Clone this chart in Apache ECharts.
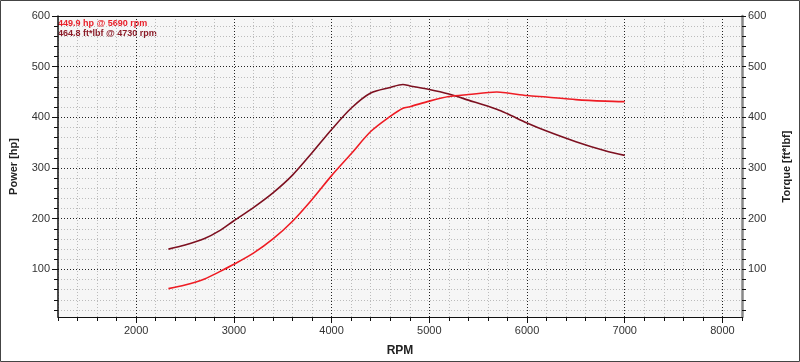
<!DOCTYPE html>
<html><head><meta charset="utf-8">
<script src="https://cdn.jsdelivr.net/npm/echarts@6/dist/echarts.min.js"></script>
<style>html,body{margin:0;padding:0;background:#fff}#c{width:800px;height:362px}</style>
</head><body><div id="c"></div>
<script>
const rpm = [2330,2500,2700,2850,3000,3200,3400,3600,3800,4000,4200,4400,4600,4730,4800,5000,5200,5400,5690,5800,6000,6200,6500,6800,7000];
const torque = [140,148,161,176,196,222,251,286,330,376,418,448,459,464.8,462,455,446,434,416,407,389,373,352,334,325];
const power = [62,69,81,95,110,132,160,195,238,285,328,372,402,418,421,432,441,445,449.9,448,443,440,435,432,431];
const yMajor = [100,200,300,400,500,600];
const yMinor = [20,40,60,80,100,120,140,160,180,200,220,240,260,280,300,320,340,360,380,400,420,440,460,480,500,520,540,560,580,600];
const xMajor = [2000,3000,4000,5000,6000,7000,8000];
const peakText = ['449.9 hp @ 5690 rpm','464.8 ft*lbf @ 4730 rpm'];
const names = {x:'RPM', yl:'Power [hp]', yr:'Torque [ft*lbf]'};

const font = 'Liberation Sans, Arial, sans-serif';
const chart = echarts.init(document.getElementById('c'), null, {renderer:'canvas'});
const yBase = {type:'value', min:6, max:600};
const dotDark = {show:true, lineStyle:{color:'#222', type:[1,2], width:1}};
const dotLight = {show:true, lineStyle:{color:'#bbb', type:[1,2], width:1}};
chart.setOption({
  animation:false,
  grid:{left:53, right:52, top:16, bottom:44, show:true, backgroundColor:'#f6f6f6', borderWidth:0},
  graphic:[
    {type:'rect', shape:{x:0.5,y:0.5,width:799,height:361}, style:{fill:'none', stroke:'#444', lineWidth:1}, silent:true, z:100},
    {type:'text', left:58, top:19, style:{text:peakText[0], fill:'#e8202a', font:'bold 9px '+font}},
    {type:'text', left:58, top:29, style:{text:peakText[1], fill:'#8b1c28', font:'bold 9px '+font}}
  ],
  xAxis:[
    {type:'value', min:1200, max:8200, interval:200, position:'bottom',
     name:names.x, nameLocation:'middle', nameGap:28,
     nameTextStyle:{fontFamily:font, fontWeight:'bold', fontSize:12, color:'#222'},
     axisLine:{show:true, lineStyle:{color:'#111', width:1}},
     axisTick:{show:true, length:4, lineStyle:{color:'#111'}},
     axisLabel:{show:true, margin:8, fontFamily:font, fontSize:11, color:'#333',
       formatter:v => (v % 1000 === 0 ? String(v) : '')},
     splitLine:dotLight},
    {type:'value', min:1200, max:8200, position:'bottom',
     axisLine:{show:false},
     axisTick:{show:true, length:6, customValues:xMajor, lineStyle:{color:'#111'}},
     axisLabel:{show:false},
     splitLine:dotDark},
    {type:'value', min:1200, max:8200, position:'top',
     axisLine:{show:true, lineStyle:{color:'#111', width:1}},
     axisTick:{show:false}, axisLabel:{show:false}, splitLine:{show:false}}
  ],
  yAxis:[
    Object.assign({}, yBase, {position:'left',
     name:names.yl, nameLocation:'middle', nameGap:39,
     nameTextStyle:{fontFamily:font, fontWeight:'bold', fontSize:11, color:'#222'},
     axisLine:{show:true, lineStyle:{color:'#111', width:1.5}},
     axisTick:{show:true, length:4, customValues:yMinor, lineStyle:{color:'#111'}},
     axisLabel:{show:true, customValues:yMajor, margin:8, fontFamily:font, fontSize:11, color:'#333'},
     splitLine:dotLight}),
    Object.assign({}, yBase, {position:'left',
     axisLine:{show:false},
     axisTick:{show:true, length:6, customValues:yMajor, lineStyle:{color:'#111'}},
     axisLabel:{show:false},
     splitLine:dotDark}),
    Object.assign({}, yBase, {position:'right',
     name:names.yr, nameLocation:'middle', nameGap:39, nameRotate:90,
     nameTextStyle:{fontFamily:font, fontWeight:'bold', fontSize:11, color:'#222'},
     axisLine:{show:true, lineStyle:{color:'#888', width:2.5}},
     axisTick:{show:true, length:4, customValues:yMinor, lineStyle:{color:'#111'}},
     axisLabel:{show:true, customValues:yMajor, margin:6, fontFamily:font, fontSize:11, color:'#333'},
     splitLine:{show:false}})
  ],
  series:[
    {type:'line', xAxisIndex:0, yAxisIndex:0, data:rpm.map((r,i)=>[r,torque[i]]),
     smooth:0.3, showSymbol:false, lineStyle:{color:'#7d1020', width:1.6}, z:5},
    {type:'line', xAxisIndex:0, yAxisIndex:0, data:rpm.map((r,i)=>[r,power[i]]),
     smooth:0.3, showSymbol:false, lineStyle:{color:'#ee1c24', width:1.6}, z:6}
  ]
});
</script></body></html>
